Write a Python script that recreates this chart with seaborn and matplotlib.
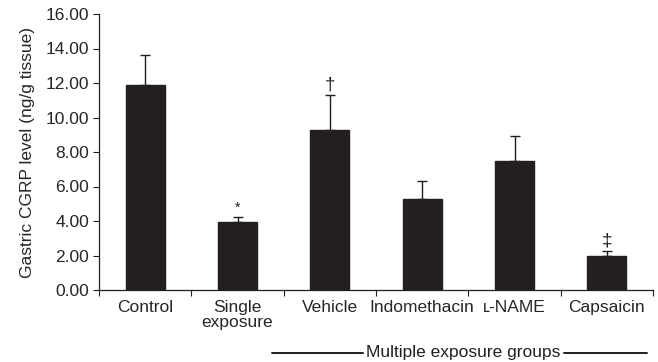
import matplotlib
matplotlib.use("Agg")
import matplotlib.pyplot as plt
import seaborn as sns
import pandas as pd
import numpy as np
from matplotlib.lines import Line2D

categories = ["Control", "Single\nexposure", "Vehicle", "Indomethacin", "ʟ-NAME", "Capsaicin"]
values = [11.9, 3.95, 9.3, 5.3, 7.5, 2.0]
errors = [1.7, 0.3, 2.0, 1.0, 1.4, 0.25]
marks = ["", "*", "†", "", "", "‡"]
yticks = [0, 2, 4, 6, 8, 10, 12, 14, 16]

sns.set_style("ticks")
plt.rcParams['font.family'] = ['Liberation Sans', 'DejaVu Sans']
plt.rcParams['font.size'] = 12.5
FS = 12.5
INK = "#231f20"

df = pd.DataFrame({"group": categories, "level": values})

fig = plt.figure(figsize=(6.58, 3.62), dpi=100)
ax = fig.add_axes([99/658, 72/362, (653-99)/658, (290-14)/362])

sns.barplot(data=df, x="group", y="level", color=INK, width=0.42,
            saturation=1, ax=ax, errorbar=None, edgecolor=INK)

x = np.arange(len(categories))
ax.errorbar(x, values, yerr=[np.zeros(len(errors)), errors], fmt="none",
            ecolor=INK, elinewidth=1.0, capsize=3.4, capthick=1.0)

for xi, v, e, m in zip(x, values, errors, marks):
    if m:
        ax.text(xi, v + e + 0.1, m, ha="center", va="bottom",
                fontsize=13.5 if m != "*" else 10, color=INK)

ax.set_xlim(-0.5, 5.5)
ax.set_ylim(0, 16)
ax.set_yticks(yticks)
ax.set_yticklabels([f"{t:.2f}" for t in yticks], fontsize=FS)
ax.set_ylabel("Gastric CGRP level (ng/g tissue)", fontsize=FS, labelpad=8)
ax.set_xlabel("")
ax.set_xticks(x)
ax.set_xticklabels(categories, fontsize=FS, linespacing=1.05)
ax.tick_params(axis="x", which="major", length=0, pad=7)
ax.set_xticks(np.arange(-0.5, 6.0, 1.0), minor=True)
ax.tick_params(axis="x", which="minor", length=4, width=0.8, direction="out", color=INK)
ax.tick_params(axis="y", length=4, width=0.8, direction="out", color=INK, pad=3)
for s in ["top", "right"]:
    ax.spines[s].set_visible(False)
for s in ["left", "bottom"]:
    ax.spines[s].set_linewidth(0.9)
    ax.spines[s].set_color(INK)

W, H = 658, 362
ly = 1 - 353/H
fig.add_artist(Line2D([272/W, 363/W], [ly, ly], color=INK, lw=1.4))
fig.add_artist(Line2D([564/W, 647/W], [ly, ly], color=INK, lw=1.4))
fig.text(463/W, ly, "Multiple exposure groups", ha="center", va="center", fontsize=FS,
         color=INK)

fig.savefig("out.png", dpi=100)
